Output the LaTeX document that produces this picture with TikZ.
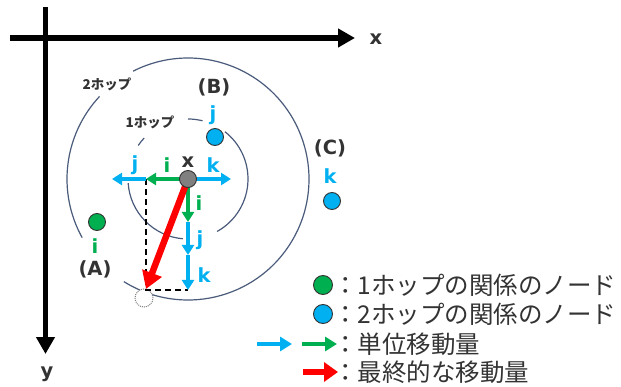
\documentclass[tikz,border=0pt]{standalone}
\usepackage{fontspec}
\setmainfont{DejaVu Sans}
\newfontfamily\jp{Noto Sans CJK JP}
\usetikzlibrary{arrows.meta}

\definecolor{ublue}{HTML}{00B0F0}
\definecolor{ugreen}{HTML}{00B050}
\definecolor{ured}{HTML}{FF0000}
\definecolor{ringcol}{HTML}{4A5A7A}
\definecolor{txtcol}{HTML}{333333}

\tikzset{
  axis/.style={line width=5.5pt, -{Triangle[length=17pt,width=18pt]}},
  ring/.style={ringcol, line width=1.2pt},
  mv/.style={line width=3.5pt, -{Triangle[length=10pt,width=12pt]}},
  legmv/.style={line width=4.5pt, -{Triangle[length=12pt,width=14pt]}},
  fin/.style={ured, line width=6.5pt, -{Triangle[length=17pt,width=20pt]}},
  legfin/.style={ured, line width=6.5pt, -{Triangle[length=14pt,width=19pt]}},
  dot/.style={circle, draw=black!80, line width=0.9pt, minimum size=17pt, inner sep=0pt},
  lbl/.style={inner sep=0pt, text=txtcol, font=\bfseries\fontsize{19.5}{20}\selectfont},
  hoplbl/.style={inner sep=0pt, text=txtcol, font=\jp\bfseries\fontsize{13.5}{14}\selectfont},
  legtxt/.style={inner sep=0pt, anchor=west, text=txtcol, font=\jp\fontsize{24.5}{26}\selectfont},
}

\begin{document}
\begin{tikzpicture}[x=1pt,y=-1pt]
\useasboundingbox (0,0) rectangle (621,387);

% coordinate axes
\coordinate (xo) at (10,38);
\coordinate (xe) at (355,38);
\coordinate (yo) at (45.5,7);
\coordinate (ye) at (45.5,354);
\draw[axis] (xo) -- (xe);
\draw[axis] (yo) -- (ye);
\node[lbl] (xlab) at (376,39) {x};
\node[lbl] (ylab) at (47,374) {y};

% centre of the hop rings
\coordinate (c) at (188,179);

% 2-hop ring (broken where labels sit)
\draw[ring] ([shift={(c)}]-137:121) arc[start angle=-137,end angle=-209,radius=121];
\draw[ring] ([shift={(c)}]-238:121) arc[start angle=-238,end angle=-477,radius=121];

% 1-hop ring (broken where labels sit)
\draw[ring] ([shift={(c)}]-76:60) arc[start angle=-76,end angle=-90,radius=60];
\draw[ring] ([shift={(c)}]61:60) arc[start angle=61,end angle=-52,radius=60];
\draw[ring] ([shift={(c)}]-184:60) arc[start angle=-184,end angle=-265,radius=60];
\draw[ring] ([shift={(c)}]-137:60) arc[start angle=-137,end angle=-146,radius=60];

\node[hoplbl] (hop2) at (107,84) {2ホップ};
\node[hoplbl] (hop1) at (150,122) {1ホップ};

% end points of the unit moves
\coordinate (gl) at (146,179);
\coordinate (bl) at (112,179);
\coordinate (br) at (231,179);
\coordinate (gd) at (188,222);
\coordinate (jd) at (188,255);
\coordinate (kd) at (188,290);
\coordinate (dc) at (146,290);
\coordinate (fe) at (146,289);

% destination (dotted) and the dashed guide
\node[circle, draw=gray, densely dotted, line width=1pt, fill=white,
      minimum size=18pt, inner sep=0pt] (dest) at (144,298) {};
\draw[black, line width=1.2pt, dash pattern=on 6pt off 4pt] (gl) -- (dc) -- (kd);

% unit moves
\draw[mv, ublue] (gl) -- (bl);
\draw[mv, ublue] (c) -- (br);
\draw[mv, ugreen] (c) -- (gl);
\draw[mv, ugreen] (c) -- (gd);
\draw[mv, ublue] (gd) -- (jd);
\draw[mv, ublue] (jd) -- (kd);

% final move
\draw[fin] (c) -- (fe);

% nodes
\node[dot, fill=gray] (X) at (c) {};
\node[dot, fill=ublue] (B) at (215,137) {};
\node[dot, fill=ublue] (C) at (332,201) {};
\node[dot, fill=ugreen] (A) at (97,222) {};

% labels
\node[lbl] (xn) at (188,162) {x};
\node[lbl, text=ublue] (lj) at (135,165) {j};
\node[lbl, text=ugreen] (li) at (167,165) {i};
\node[lbl, text=ublue] (lk) at (213,165) {k};
\node[lbl, text=ugreen] (di) at (199,203) {i};
\node[lbl, text=ublue] (dj) at (200,240) {j};
\node[lbl, text=ublue] (dk) at (204,275) {k};

\node[lbl] (Bl) at (214,87) {(B)};
\node[lbl, text=ublue] (Bj) at (213,115) {j};
\node[lbl] (Cl) at (330,148) {(C)};
\node[lbl, text=ublue] (Ck) at (330,176) {k};
\node[lbl, text=ugreen] (Ai) at (95,246) {i};
\node[lbl] (Al) at (95,269) {(A)};

% legend
\node[dot, fill=ugreen, minimum size=19pt] (lg1) at (323,285) {};
\node[legtxt] (lt1) at (333,285) {：1ホップの関係のノード};
\node[dot, fill=ublue, minimum size=19pt] (lg2) at (323,314) {};
\node[legtxt] (lt2) at (333,314) {：2ホップの関係のノード};
\coordinate (a1s) at (257,344);
\coordinate (a1e) at (292,344);
\coordinate (a2s) at (302,344);
\coordinate (a2e) at (337,344);
\coordinate (a3s) at (303,372);
\coordinate (a3e) at (338,372);
\draw[legmv, ublue] (a1s) -- (a1e);
\draw[legmv, ugreen] (a2s) -- (a2e);
\node[legtxt] (lt3) at (333,344) {：単位移動量};
\draw[legfin] (a3s) -- (a3e);
\node[legtxt] (lt4) at (333,372) {：最終的な移動量};
\end{tikzpicture}
\end{document}
